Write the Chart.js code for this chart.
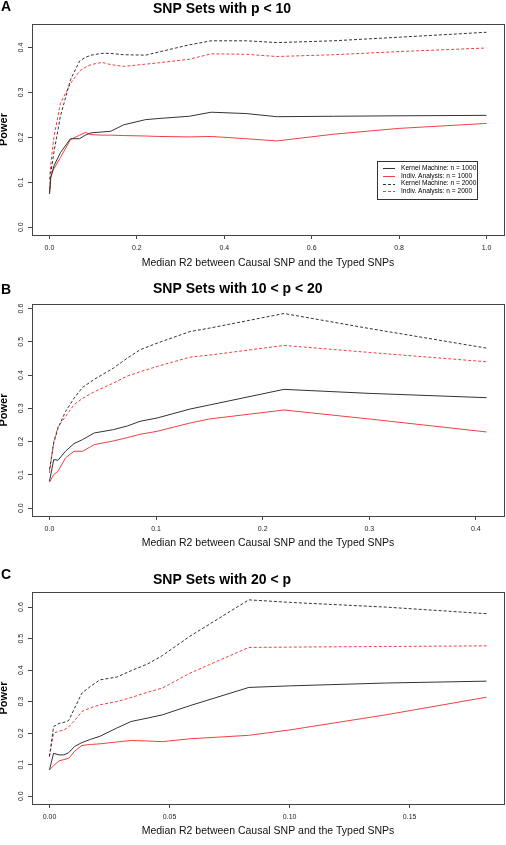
<!DOCTYPE html>
<html>
<head>
<meta charset="utf-8">
<script src="https://cdn.jsdelivr.net/npm/chart.js@4.4.0/dist/chart.umd.min.js"></script>
<style>
  body { margin: 0; background: #fff; width: 506px; height: 845px; position: relative; overflow: hidden; }
  canvas { position: absolute; left: 0; }
</style>
</head>
<body>
<canvas id="cA" width="506" height="280" style="top:0px"></canvas>
<canvas id="cB" width="506" height="280" style="top:280px"></canvas>
<canvas id="cC" width="506" height="285" style="top:560px"></canvas>
<script>
// series names (legend order)
const seriesLabels = ['Kernel Machine: n = 1000', 'Indiv. Analysis: n = 1000', 'Kernel Machine: n = 2000', 'Indiv. Analysis: n = 2000'];

// panel A: SNP sets with p < 10
const xA = [0, 0.003, 0.01, 0.025, 0.048, 0.069, 0.082, 0.095, 0.12, 0.14, 0.17, 0.22, 0.25, 0.32, 0.37, 0.45, 0.52, 0.65, 0.8, 1.0];
const kernel1000A = [0.074, 0.11, 0.136, 0.166, 0.197, 0.197, 0.205, 0.21, 0.212, 0.2135, 0.228, 0.2395, 0.242, 0.247, 0.256, 0.253, 0.246, 0.247, 0.248, 0.249];
const indiv1000A = [0.074, 0.114, 0.13, 0.155, 0.195, 0.205, 0.211, 0.206, 0.205, 0.205, 0.204, 0.203, 0.202, 0.201, 0.202, 0.197, 0.192, 0.207, 0.22, 0.231];
const kernel2000A = [0.074, 0.12, 0.166, 0.247, 0.328, 0.37, 0.378, 0.383, 0.387, 0.387, 0.384, 0.383, 0.39, 0.406, 0.415, 0.415, 0.411, 0.415, 0.423, 0.434];
const indiv2000A = [0.106, 0.14, 0.2, 0.276, 0.32, 0.348, 0.356, 0.362, 0.367, 0.362, 0.358, 0.363, 0.366, 0.374, 0.386, 0.385, 0.38, 0.384, 0.391, 0.399];
const xTicksA = [0, 0.2, 0.4, 0.6, 0.8, 1.0];
const yTicksA = [0, 0.1, 0.2, 0.3, 0.4];

// panel B: SNP sets with 10 < p < 20
const xB = [0, 0.004, 0.008, 0.015, 0.023, 0.031, 0.042, 0.06, 0.073, 0.085, 0.101, 0.132, 0.15, 0.22, 0.3, 0.41];
const kernel1000B = [0.081, 0.146, 0.144, 0.171, 0.194, 0.206, 0.226, 0.236, 0.247, 0.261, 0.271, 0.298, 0.31, 0.357, 0.345, 0.332];
const indiv1000B = [0.078, 0.101, 0.111, 0.151, 0.171, 0.171, 0.191, 0.202, 0.212, 0.222, 0.231, 0.256, 0.268, 0.295, 0.268, 0.229];
const kernel2000B = [0.116, 0.196, 0.24, 0.29, 0.33, 0.363, 0.387, 0.421, 0.451, 0.476, 0.496, 0.531, 0.541, 0.585, 0.54, 0.481];
const indiv2000B = [0.106, 0.2, 0.245, 0.275, 0.311, 0.33, 0.35, 0.376, 0.397, 0.41, 0.426, 0.454, 0.46, 0.489, 0.468, 0.44];
const xTicksB = [0, 0.1, 0.2, 0.3, 0.4];
const yTicksB = [0, 0.1, 0.2, 0.3, 0.4, 0.5, 0.6];

// panel C: SNP sets with 20 < p
const xC = [0, 0.0017, 0.004, 0.006, 0.008, 0.0105, 0.0135, 0.017, 0.021, 0.028, 0.034, 0.041, 0.047, 0.0584, 0.083, 0.1, 0.14, 0.182];
const kernel1000C = [0.0835, 0.136, 0.131, 0.131, 0.138, 0.158, 0.17, 0.18, 0.19, 0.216, 0.237, 0.248, 0.258, 0.287, 0.345, 0.35, 0.359, 0.365];
const indiv1000C = [0.0835, 0.097, 0.112, 0.116, 0.12, 0.143, 0.161, 0.164, 0.166, 0.172, 0.1766, 0.175, 0.173, 0.182, 0.193, 0.21, 0.258, 0.314];
const kernel2000C = [0.126, 0.221, 0.231, 0.234, 0.24, 0.28, 0.327, 0.348, 0.369, 0.378, 0.398, 0.42, 0.446, 0.507, 0.623, 0.615, 0.6, 0.579];
const indiv2000C = [0.126, 0.2, 0.206, 0.21, 0.22, 0.24, 0.269, 0.28, 0.29, 0.3, 0.313, 0.33, 0.343, 0.39, 0.472, 0.473, 0.475, 0.477];
const xTicksC = [0, 0.05, 0.10, 0.15];
const yTicksC = [0, 0.1, 0.2, 0.3, 0.4, 0.5, 0.6];

const BLACK = '#333333';
const RED = '#f04040';
const lineColors = [BLACK, RED, BLACK, RED];
const lineDashes = [[], [], [3, 2], [3, 2]];

const boxPlugin = {
  id: 'rbox',
  afterDraw(chart, args, opts) {
    const { ctx, chartArea: a } = chart;
    ctx.save();
    ctx.strokeStyle = '#444';
    ctx.lineWidth = 1;
    ctx.strokeRect(Math.round(a.left) + 0.5, Math.round(a.top) + 0.5, Math.round(a.right - a.left), Math.round(a.bottom - a.top));
    // panel letter and title
    ctx.fillStyle = '#000';
    ctx.textAlign = 'left';
    ctx.textBaseline = 'alphabetic';
    ctx.font = 'bold 14px "Liberation Sans", Arial, sans-serif';
    ctx.fillText(opts.letter, 1, opts.letterY);
    ctx.fillText(opts.title, 153, opts.titleY);
    // legend
    if (opts.legend) {
      const lx = 377, ly = 161, lw = 100, lh = 38;
      ctx.strokeStyle = '#333';
      ctx.strokeRect(lx + 0.5, ly + 0.5, lw, lh);
      ctx.font = '6.6px "Liberation Sans", Arial, sans-serif';
      ctx.textBaseline = 'middle';
      chart.data.datasets.forEach((ds, i) => {
        const y = ly + 7 + i * 7.8;
        ctx.strokeStyle = ds.borderColor;
        ctx.setLineDash(ds.borderDash);
        ctx.beginPath();
        ctx.moveTo(383, Math.round(y) + 0.5);
        ctx.lineTo(395, Math.round(y) + 0.5);
        ctx.stroke();
        ctx.setLineDash([]);
        ctx.fillStyle = '#000';
        ctx.fillText(ds.label, 401, y);
      });
    }
    ctx.restore();
  }
};

function makePanel(id, cfg) {
  const sets = [cfg.k1, cfg.i1, cfg.k2, cfg.i2].map((ys, i) => ({
    label: seriesLabels[i],
    data: cfg.x.map((xv, j) => ({ x: xv, y: ys[j] })),
    borderColor: lineColors[i],
    borderDash: lineDashes[i],
    borderWidth: 1,
    pointRadius: 0,
    tension: 0,
    fill: false
  }));
  return new Chart(document.getElementById(id), {
    type: 'line',
    data: { datasets: sets },
    plugins: [boxPlugin],
    options: {
      responsive: false,
      animation: false,
      devicePixelRatio: 1,
      layout: { padding: { left: 0, right: 2, top: cfg.top, bottom: 0 } },
      plugins: {
        legend: { display: false },
        tooltip: { enabled: false },
        rbox: { letter: cfg.letter, letterY: cfg.letterY, title: cfg.title, titleY: cfg.titleY, legend: cfg.legend }
      },
      scales: {
        x: {
          type: 'linear',
          min: cfg.xMin, max: cfg.xMax,
          afterBuildTicks: s => { s.ticks = cfg.xTicks.map(v => ({ value: v })); },
          afterFit: s => { s.height = cfg.bottomH; },
          grid: { drawOnChartArea: false, drawTicks: true, tickLength: 4, color: '#444' },
          border: { display: false },
          ticks: {
            autoSkip: false, maxRotation: 0, padding: 5,
            color: '#222',
            font: { size: 7, family: '"Liberation Sans", Arial, sans-serif' },
            callback: v => v.toFixed(cfg.xDec)
          },
          title: {
            display: true,
            text: 'Median R2 between Causal SNP and the Typed SNPs',
            color: '#111',
            font: { size: 10.5, family: '"Liberation Sans", Arial, sans-serif' },
            padding: { top: 0, bottom: cfg.xTitlePad }
          }
        },
        y: {
          type: 'linear',
          min: cfg.yMin, max: cfg.yMax,
          afterBuildTicks: s => { s.ticks = cfg.yTicks.map(v => ({ value: v })); },
          afterFit: s => { s.width = 32; },
          grid: { drawOnChartArea: false, drawTicks: true, tickLength: 4, color: '#444' },
          border: { display: false },
          ticks: {
            minRotation: 90, maxRotation: 90, crossAlign: 'center', padding: 2,
            color: '#222',
            font: { size: 7, family: '"Liberation Sans", Arial, sans-serif' },
            callback: v => v.toFixed(1)
          },
          title: {
            display: true,
            text: 'Power',
            color: '#000',
            font: { size: 11, weight: 'bold', lineHeight: 1, family: '"Liberation Sans", Arial, sans-serif' },
            padding: { top: -2, bottom: 0 }
          }
        }
      }
    }
  });
}

makePanel('cA', {
  x: xA, k1: kernel1000A, i1: indiv1000A, k2: kernel2000A, i2: indiv2000A,
  xTicks: xTicksA, yTicks: yTicksA, xDec: 1,
  xMin: -0.04, xMax: 1.04, yMin: -0.0174, yMax: 0.4524,
  top: 24, bottomH: 45, xTitlePad: 11,
  letter: 'A', letterY: 11, title: 'SNP Sets with p < 10', titleY: 12.5, legend: true
});
makePanel('cB', {
  x: xB, k1: kernel1000B, i1: indiv1000B, k2: kernel2000B, i2: indiv2000B,
  xTicks: xTicksB, yTicks: yTicksB, xDec: 1,
  xMin: -0.0164, xMax: 0.4264, yMin: -0.0236, yMax: 0.6136,
  top: 24, bottomH: 44, xTitlePad: 11,
  letter: 'B', letterY: 14, title: 'SNP Sets with 10 < p < 20', titleY: 13, legend: false
});
makePanel('cC', {
  x: xC, k1: kernel1000C, i1: indiv1000C, k2: kernel2000C, i2: indiv2000C,
  xTicks: xTicksC, yTicks: yTicksC, xDec: 2,
  xMin: -0.00728, xMax: 0.18928, yMin: -0.0249, yMax: 0.6479,
  top: 32, bottomH: 41, xTitlePad: 7.5,
  letter: 'C', letterY: 19, title: 'SNP Sets with 20 < p', titleY: 23.5, legend: false
});
</script>
</body>
</html>
